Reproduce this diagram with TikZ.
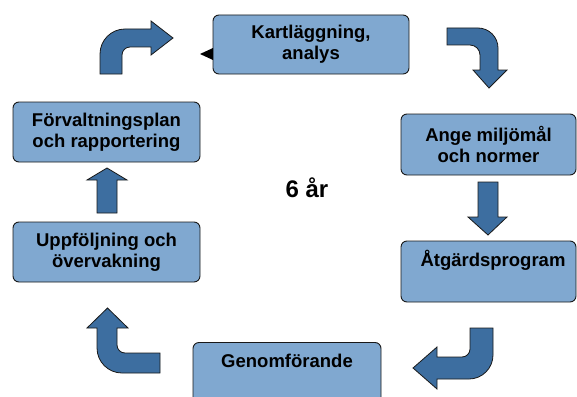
\documentclass[tikz,border=0pt]{standalone}
\usepackage{fontspec}
\setmainfont{Liberation Sans}
\definecolor{boxfill}{RGB}{128,168,208}
\definecolor{arrowfill}{RGB}{61,110,160}
\definecolor{edge}{RGB}{25,25,25}
\begin{document}
\begin{tikzpicture}[x=1pt,y=-1pt,
  box/.style={draw=edge,fill=boxfill,line width=0.9pt,rounded corners=6pt,inner sep=0pt},
  lbl/.style={font=\fontsize{18.5}{21}\selectfont\bfseries,align=center,text=black},
  blk/.style={draw=edge,fill=arrowfill,line width=0.8pt,line join=miter}]
\useasboundingbox (0,0) rectangle (577,396);
% boxes
\node[box,minimum width=196pt,minimum height=59pt] (k) at (311,44.5) {};
\node[lbl] (kt) at (k.center) {Kartläggning,\\analys};
\node[box,minimum width=175pt,minimum height=61pt] (a) at (488.5,144.5) {};
\node[lbl] (at) at (a.center) {Ange miljömål\\och normer};
\node[box,minimum width=175pt,minimum height=61pt] (p) at (488.5,271.5) {};
\node[lbl] (pt) at (493,260) {Åtgärdsprogram};
\node[box,minimum width=188pt,minimum height=70pt] (g) at (287,377.5) {};
\node[lbl] (gt) at (287,361) {Genomförande};
\node[box,minimum width=187pt,minimum height=60pt] (f) at (106.5,132) {};
\node[lbl] (ft) at (f.center) {Förvaltningsplan\\och rapportering};
\node[box,minimum width=187pt,minimum height=60pt] (u) at (106.5,252) {};
\node[lbl] (ut) at (u.center) {Uppföljning och\\övervakning};
\node[font=\fontsize{24}{28}\selectfont\bfseries] (c) at (307,188) {6 år};
% small triangle
\fill[black] (200,54) -- (213,48) -- (213,60) -- cycle;
% top-left curved arrow
\path[blk] (100,74) -- (100,54) .. controls (100,40.2) and (111.2,29) .. (125,29) -- (151,29) -- (151,21) -- (173,38) -- (151,55) -- (151,47) -- (130,47) .. controls (125.6,47) and (122,50.6) .. (122,55) -- (122,74) -- cycle;
% top-right curved arrow
\path[blk] (447,28) -- (478,28) .. controls (489,28) and (498,37) .. (498,48) -- (498,70) -- (507,70) -- (489,88) -- (473,70) -- (480,70) -- (480,55) .. controls (480,49.5) and (475.5,45) .. (470,45) -- (447,45) -- cycle;
% down arrow
\path[blk] (478,182) -- (498,182) -- (498,217) -- (507,217) -- (488,235) -- (468,217) -- (478,217) -- cycle;
% bottom-right curved arrow
\path[blk] (493,328) -- (493,355) .. controls (493,368.2) and (482.2,379) .. (469,379) -- (437,379) -- (437,389) -- (413,368) -- (437,347) -- (437,357) -- (462,357) .. controls (466.4,357) and (470,353.4) .. (470,349) -- (470,328) -- cycle;
% bottom-left curved arrow
\path[blk] (160,373) -- (122,373) .. controls (108.2,373) and (97,361.8) .. (97,348) -- (97,328) -- (87,328) -- (107.5,308) -- (128,328) -- (117,328) -- (117,345) .. controls (117,349.4) and (120.6,353) .. (125,353) -- (160,353) -- cycle;
% up arrow
\path[blk] (97,213) -- (97,180) -- (87,180) -- (107,168) -- (127,180) -- (117,180) -- (117,213) -- cycle;
\end{tikzpicture}
\end{document}
